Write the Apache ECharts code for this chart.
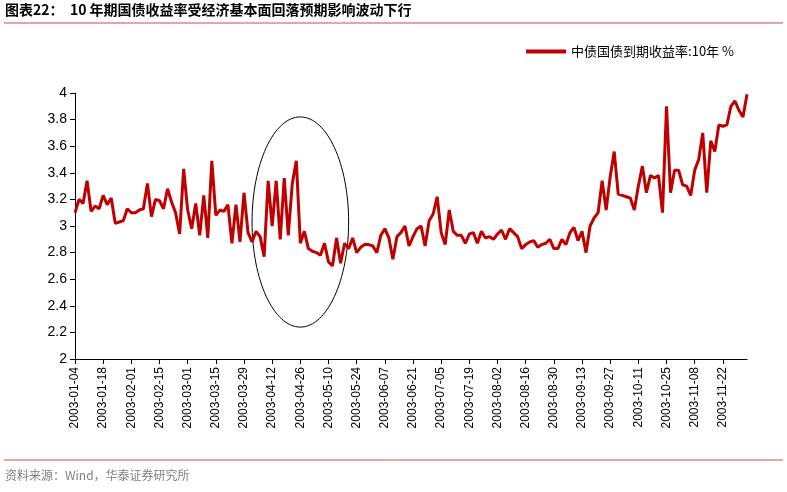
<!DOCTYPE html>
<html><head><meta charset="utf-8">
<script src="https://cdn.jsdelivr.net/npm/echarts@6/dist/echarts.min.js"></script>
<style>html,body{margin:0;padding:0;background:#fff}#c{width:787px;height:492px}</style>
</head><body><div id="c"></div>
<script>
const startDate = '2003-01-04';
const stepDays = 2;
const yields = [
3.10,3.20,3.17,3.34,3.11,3.15,3.13,3.23,3.16,3.21,
3.02,3.03,3.04,3.13,3.10,3.10,3.12,3.13,3.32,3.07,
3.20,3.19,3.13,3.28,3.18,3.10,2.94,3.43,3.12,2.98,
3.17,2.93,3.23,2.91,3.49,3.08,3.12,3.11,3.16,2.87,
3.16,2.88,3.25,2.95,2.88,2.96,2.92,2.77,3.34,3.00,
3.34,2.90,3.36,2.93,3.32,3.49,2.87,2.96,2.83,2.81,
2.80,2.78,2.87,2.73,2.70,2.91,2.72,2.87,2.83,2.91,
2.80,2.84,2.86,2.86,2.85,2.80,2.93,2.98,2.91,2.75,
2.92,2.95,3.00,2.85,2.92,2.98,3.00,2.85,3.04,3.09,
3.22,2.95,2.86,3.12,2.96,2.93,2.93,2.87,2.94,2.95,
2.87,2.96,2.91,2.92,2.90,2.94,2.97,2.90,2.98,2.95,
2.92,2.83,2.86,2.88,2.89,2.84,2.86,2.87,2.90,2.83,
2.83,2.90,2.86,2.95,2.99,2.89,2.96,2.80,3.00,3.06,
3.10,3.34,3.12,3.37,3.56,3.24,3.23,3.22,3.21,3.12,
3.30,3.45,3.25,3.38,3.36,3.38,3.10,3.90,3.25,3.42,
3.42,3.31,3.30,3.23,3.42,3.50,3.70,3.25,3.64,3.56,
3.76,3.75,3.76,3.90,3.94,3.87,3.82,3.99];
const titleText = '图表22：  10 年期国债收益率受经济基本面回落预期影响波动下行';
const seriesName = '中债国债到期收益率:10年 %';
const sourceText = '资料来源：Wind，华泰证券研究所';

const dates = [];
{
  const d0 = new Date(startDate + 'T00:00:00Z');
  for (let i = 0; i < yields.length; i++) {
    const d = new Date(d0.getTime() + i * stepDays * 86400000);
    dates.push(d.toISOString().slice(0, 10));
  }
}
const chart = echarts.init(document.getElementById('c'));
chart.setOption({
  animation: false,
  textStyle: {fontFamily: 'Liberation Sans, Arial, sans-serif'},
  grid: {left: 75, right: 40, top: 93, bottom: 133},
  legend: {top: 40, right: 48, itemWidth: 40, itemHeight: 4, icon: 'rect',
    textStyle: {fontSize: 13, color: '#000', fontFamily: 'Noto Sans CJK SC'}, data: [seriesName]},
  xAxis: {type: 'category', data: dates, boundaryGap: false,
    axisLine: {lineStyle: {color: '#000'}},
    axisTick: {interval: 6, lineStyle: {color: '#000'}},
    axisLabel: {interval: 6, rotate: 90, fontSize: 12, color: '#000'}},
  yAxis: {type: 'value', min: 2, max: 4, interval: 0.2,
    axisLine: {show: true, lineStyle: {color: '#000'}},
    axisTick: {show: true, lineStyle: {color: '#000'}},
    splitLine: {show: false},
    axisLabel: {fontSize: 14, color: '#000', formatter: v => String(+v.toFixed(1))}},
  series: [{name: seriesName, type: 'line', data: yields, symbol: 'none',
    lineStyle: {color: '#C00000', width: 3}, itemStyle: {color: '#C00000'}}]
});
const ec = chart.convertToPixel({gridIndex: 0}, ['2003-04-26', 3.03]);
const eTop = chart.convertToPixel({gridIndex: 0}, ['2003-04-26', 3.82]);
const eLeft = chart.convertToPixel({gridIndex: 0}, ['2003-04-02', 3.03]);
chart.setOption({graphic: [
  {type: 'text', left: 5, top: 3, style: {text: titleText, font: 'bold 14px "Noto Sans CJK SC"', fill: '#000'}},
  {type: 'line', shape: {x1: 4, y1: 23, x2: 783, y2: 23}, style: {stroke: '#C0504D', lineWidth: 1}},
  {type: 'line', shape: {x1: 4, y1: 460, x2: 783, y2: 460}, style: {stroke: '#C0504D', lineWidth: 1}},
  {type: 'text', left: 5, top: 469, style: {text: sourceText, font: '12px "Noto Sans CJK SC"', fill: '#7f7f7f'}},
  {type: 'ellipse', shape: {cx: ec[0], cy: ec[1], rx: ec[0] - eLeft[0], ry: ec[1] - eTop[1]},
    style: {fill: 'none', stroke: '#000', lineWidth: 1}}
]});
</script></body></html>
